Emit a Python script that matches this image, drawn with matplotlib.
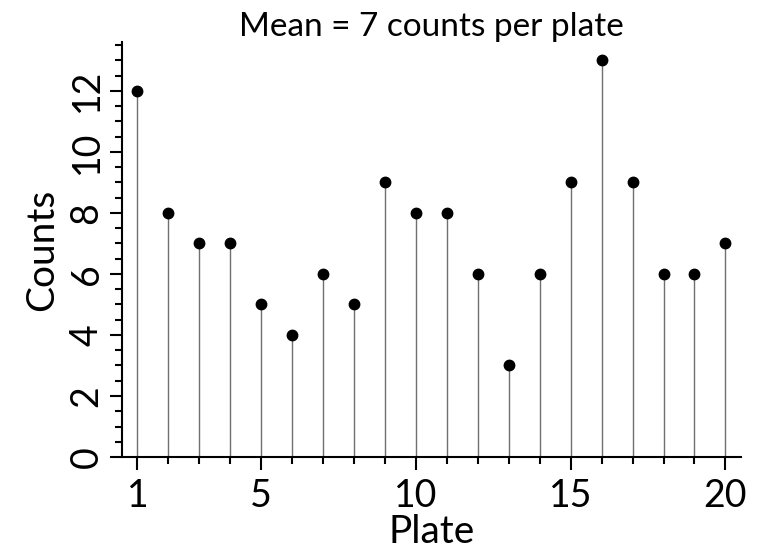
#imports for plotting
import numpy as np
import matplotlib.pyplot as plt
from matplotlib.ticker import MultipleLocator, FixedLocator

#plate numbers and counts
plates = list(range(1, 21))
counts = [12, 8, 7, 7, 5, 4, 6, 5, 9, 8, 8, 6, 3, 6, 9, 13, 9, 6, 6, 7]
x_ticks = [1, 5, 10, 15, 20]
y_ticks = [0, 2, 4, 6, 8, 10, 12]

plt.rcParams['font.family'] = ['Lato', 'DejaVu Sans']

fig = plt.figure(figsize=(7.67, 5.52), dpi=100)
ax = fig.add_axes([0.159, 0.172, 0.807, 0.752])

#stems and dots
ax.vlines(plates, 0, counts, color="#707070", linewidth=1)
ax.plot(plates, counts, 'o', color="black", markersize=7.5)

ax.set_xlim(0.5, 20.5)
ax.set_ylim(0, 13.6)
ax.xaxis.set_major_locator(FixedLocator(x_ticks))
ax.xaxis.set_minor_locator(MultipleLocator(1))
ax.yaxis.set_major_locator(FixedLocator(y_ticks))
ax.yaxis.set_minor_locator(MultipleLocator(0.5))

ax.spines['top'].set_visible(False)
ax.spines['right'].set_visible(False)
ax.spines['left'].set_linewidth(1.5)
ax.spines['bottom'].set_linewidth(1.5)

ax.tick_params(which='major', length=9, width=1.5, labelsize=27, direction='out')
ax.tick_params(which='minor', length=5, width=1.5, direction='out')
ax.tick_params(axis='x', which='major', pad=6)
plt.setp(ax.get_yticklabels(), rotation=90, va='center')

ax.set_xlabel("Plate", fontsize=28, labelpad=0)
ax.set_ylabel("Counts", fontsize=28, labelpad=6)
ax.set_title("Mean = 7 counts per plate", fontsize=24, pad=4)

plt.savefig("out.png", dpi=100)
